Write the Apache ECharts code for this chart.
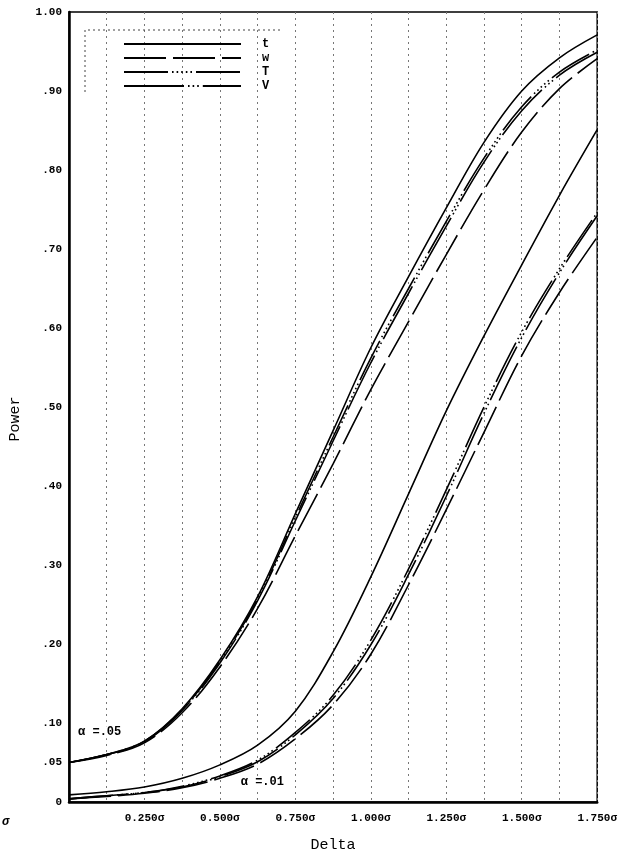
<!DOCTYPE html>
<html>
<head>
<meta charset="utf-8">
<script src="https://cdn.jsdelivr.net/npm/echarts@6/dist/echarts.min.js"></script>
<style>
  html, body { margin: 0; padding: 0; background: #fff; }
  #chart { width: 620px; height: 858px; }
</style>
</head>
<body>
<div id="chart"></div>
<script>
// Shift in the mean, in units of sigma
const deltas = [0, 0.125, 0.25, 0.375, 0.5, 0.625, 0.75, 0.875, 1.0, 1.125, 1.25, 1.375, 1.5, 1.625, 1.75];

// Power at alpha = .05
const power05_t = [0.050, 0.060, 0.077, 0.118, 0.180, 0.260, 0.365, 0.470, 0.575, 0.665, 0.752, 0.835, 0.900, 0.942, 0.971];
const power05_w = [0.050, 0.059, 0.075, 0.113, 0.171, 0.245, 0.337, 0.428, 0.522, 0.608, 0.693, 0.775, 0.848, 0.903, 0.941];
const power05_T = [0.050, 0.060, 0.077, 0.117, 0.178, 0.257, 0.360, 0.462, 0.562, 0.650, 0.735, 0.815, 0.880, 0.924, 0.952];
const power05_V = [0.050, 0.060, 0.076, 0.116, 0.176, 0.255, 0.356, 0.457, 0.556, 0.644, 0.729, 0.810, 0.875, 0.920, 0.949];

// Power at alpha = .01
const power01_t = [0.009, 0.013, 0.019, 0.030, 0.047, 0.072, 0.115, 0.190, 0.285, 0.390, 0.495, 0.590, 0.680, 0.768, 0.851];
const power01_w = [0.004, 0.007, 0.011, 0.018, 0.030, 0.048, 0.080, 0.123, 0.187, 0.275, 0.370, 0.468, 0.565, 0.645, 0.715];
const power01_T = [0.004, 0.008, 0.012, 0.020, 0.033, 0.053, 0.088, 0.135, 0.205, 0.295, 0.395, 0.500, 0.595, 0.675, 0.746];
const power01_V = [0.004, 0.008, 0.012, 0.019, 0.032, 0.051, 0.085, 0.131, 0.199, 0.288, 0.387, 0.492, 0.588, 0.670, 0.742];

// Test names as shown in the key
const testNames = ['t', 'w', 'T', 'V'];

// Axis tick labels
const xTickValues = [0.25, 0.5, 0.75, 1.0, 1.25, 1.5, 1.75];
const xTickTexts = ['0.250\u03c3', '0.500\u03c3', '0.750\u03c3', '1.000\u03c3', '1.250\u03c3', '1.500\u03c3', '1.750\u03c3'];
const yTickValues = [0, 0.05, 0.1, 0.2, 0.3, 0.4, 0.5, 0.6, 0.7, 0.8, 0.9, 1.0];
const yTickTexts = ['0', '.05', '.10', '.20', '.30', '.40', '.50', '.60', '.70', '.80', '.90', '1.00'];

// Curve annotations
const alphaLabels = ['\u03b1 =.05', '\u03b1 =.01'];
const alphaLabelAt = [[0.03, 0.087], [0.569, 0.024]];

const MONO = '"Liberation Mono", "DejaVu Sans Mono", monospace';

const dashStyles = {
  t: 'solid',
  w: [42, 7],
  T: [44, 4, 1.6, 3, 1.6, 3, 1.6, 3, 1.6, 3, 1.6, 4],
  V: [60, 4, 1.6, 3, 1.6, 3, 1.6, 4]
};

function pairs(values) {
  return deltas.map((d, i) => [d, values[i]]);
}

function lookup(values, texts, v) {
  for (let i = 0; i < values.length; i++) {
    if (Math.abs(values[i] - v) < 1e-6) return texts[i];
  }
  return '';
}

function curve(name, values) {
  return {
    type: 'line',
    name: name,
    data: pairs(values),
    smooth: 0.35,
    symbol: 'none',
    legendIcon: 'none',
    silent: true,
    animation: false,
    itemStyle: { color: '#000', opacity: 0 },
    lineStyle: { color: '#000', width: 1.6, type: dashStyles[name], cap: 'butt' }
  };
}

const chart = echarts.init(document.getElementById('chart'), null, { renderer: 'canvas' });

chart.setOption({
  backgroundColor: '#fff',
  animation: false,
  grid: {
    left: 69, right: 19, top: 12, bottom: 52,
    show: true, borderColor: '#000', borderWidth: 1.5
  },
  legend: {
    data: testNames,
    orient: 'vertical',
    left: 123,
    top: 38,
    padding: 0,
    itemWidth: 117,
    itemHeight: 14,
    itemGap: 2,
    selectedMode: false,
    itemStyle: { opacity: 0 },
    textStyle: {
      fontFamily: MONO, fontWeight: 'bold', fontSize: 12, color: '#000',
      padding: [0, 0, 0, 16]
    }
  },
  xAxis: {
    type: 'value',
    min: 0,
    max: 1.75,
    interval: 0.125,
    name: 'Delta',
    nameLocation: 'middle',
    nameGap: 36,
    nameTextStyle: { fontFamily: MONO, fontSize: 15, color: '#000' },
    axisLine: { show: true, lineStyle: { color: '#000', width: 2.5 } },
    axisTick: { show: false },
    axisLabel: {
      margin: 11,
      fontFamily: MONO, fontWeight: 'bold', fontSize: 11, color: '#000',
      formatter: v => lookup(xTickValues, xTickTexts, v)
    },
    splitLine: { show: true, lineStyle: { color: '#777', width: 1, type: [2, 4] } }
  },
  yAxis: {
    type: 'value',
    min: 0,
    max: 1,
    interval: 0.05,
    name: 'Power',
    nameLocation: 'middle',
    nameRotate: 90,
    nameGap: 46,
    nameTextStyle: { fontFamily: MONO, fontSize: 15, color: '#000', padding: [0, 24, 0, 0] },
    axisLine: { show: true, lineStyle: { color: '#000', width: 2.5 } },
    axisTick: { show: false },
    axisLabel: {
      margin: 7,
      fontFamily: MONO, fontWeight: 'bold', fontSize: 11, color: '#000',
      formatter: v => lookup(yTickValues, yTickTexts, v)
    },
    splitLine: { show: false }
  },
  series: [
    curve('t', power05_t),
    curve('w', power05_w),
    curve('T', power05_T),
    curve('V', power05_V),
    curve('t', power01_t),
    curve('w', power01_w),
    curve('T', power01_T),
    curve('V', power01_V)
  ]
});

// Place the alpha annotations and the dotted key frame
const labelGraphics = alphaLabels.map((text, i) => {
  const p = chart.convertToPixel({ gridIndex: 0 }, alphaLabelAt[i]);
  return {
    type: 'text',
    left: p[0],
    top: p[1] - 7,
    style: { text: text, font: 'bold 12px ' + MONO, fill: '#000', backgroundColor: '#fff' },
    z: 10
  };
});

chart.setOption({
  graphic: labelGraphics.concat([
    {
      type: 'polyline',
      shape: { points: [[85, 92], [85, 30], [280, 30]] },
      style: { stroke: '#444', lineWidth: 1, lineDash: [2, 3], fill: null },
      z: 5
    },
    {
      type: 'text',
      left: 2,
      top: 816,
      style: { text: '\u03c3', font: 'italic bold 12px ' + MONO, fill: '#000' }
    }
  ])
});
</script>
</body>
</html>
